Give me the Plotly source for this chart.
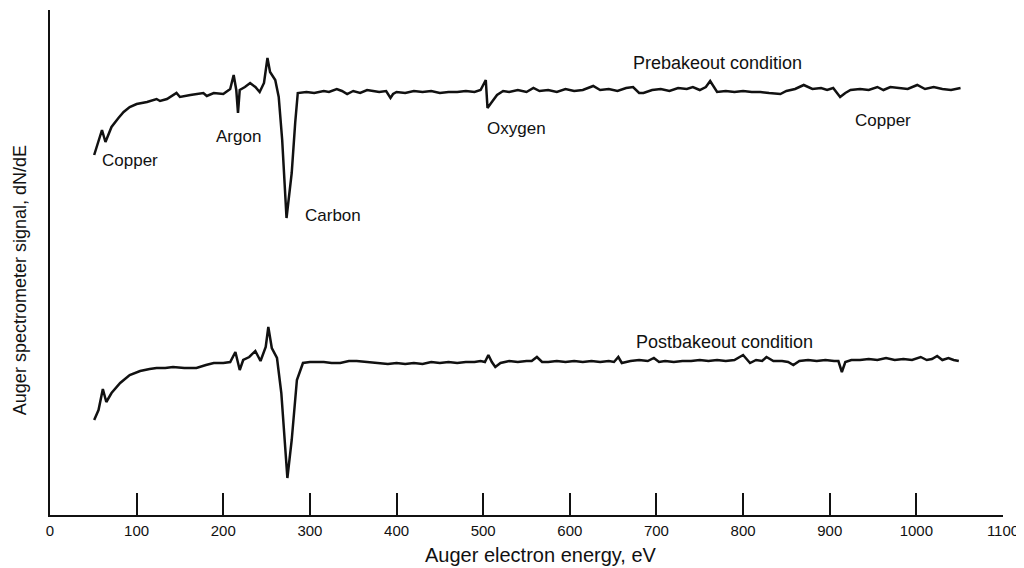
import plotly.graph_objects as go

# Prebakeout condition trace (energy in eV, signal in arbitrary units)
pre_energy = [51, 55, 60, 64, 71, 79, 85, 92, 100, 112, 123, 127, 135, 146, 150, 162, 177, 181, 189, 200,
              208, 212, 215, 217, 219, 225, 231, 237, 242, 247, 251, 254, 260, 264, 268, 273, 279, 283, 286,
              296, 305, 316, 322, 331, 337, 343, 350, 358, 366, 373, 380, 388, 393, 396, 400, 410, 420, 430,
              440, 450, 460, 470, 480, 490, 497, 503, 505, 510, 516, 523, 530, 540, 550, 558, 565, 575, 585,
              595, 605, 615, 627, 635, 645, 655, 665, 673, 680, 685, 695, 705, 715, 725, 735, 742, 750, 757,
              762, 770, 780, 790, 800, 810, 820, 830, 843, 850, 860, 870, 880, 890, 897, 904, 912, 918, 924,
              935, 945, 955, 962, 970, 980, 990, 1001, 1010, 1020, 1030, 1040, 1051]
pre_signal = [360, 372, 385, 373, 388, 397, 403, 408, 411, 413, 416, 414, 416, 422, 418, 420, 422, 419, 422, 421,
              426, 440, 425, 402, 425, 428, 432, 428, 423, 432, 457, 443, 435, 418, 375, 297, 342, 392, 422,
              423, 422, 424, 423, 426, 424, 421, 424, 422, 425, 424, 423, 424, 417, 421, 423, 422, 424, 423,
              424, 422, 423, 423, 424, 423, 425, 435, 407, 413, 420, 424, 423, 425, 423, 427, 424, 425, 423,
              426, 424, 425, 429, 425, 426, 424, 427, 428, 422, 422, 425, 426, 424, 427, 426, 428, 425, 428,
              434, 423, 424, 423, 424, 423, 423, 422, 421, 424, 426, 430, 426, 427, 425, 427, 418, 422, 425,
              426, 425, 428, 425, 428, 427, 426, 430, 426, 428, 426, 425, 427]

# Postbakeout condition trace
post_energy = [51, 56, 61, 65, 71, 81, 92, 104, 115, 123, 133, 142, 155, 169, 180, 189, 200, 208, 214, 219,
               223, 230, 237, 243, 249, 252, 256, 262, 267, 274, 279, 285, 292, 300, 316, 325, 335, 345, 354,
               365, 381, 390, 400, 410, 420, 430, 440, 450, 460, 470, 480, 490, 497, 502, 506, 510, 514, 520,
               530, 540, 550, 556, 562, 568, 575, 585, 595, 605, 615, 625, 635, 645, 651, 656, 660, 670, 680,
               690, 697, 703, 710, 720, 730, 740, 750, 760, 770, 780, 790, 800, 808, 815, 822, 827, 835, 845,
               852, 858, 865, 875, 885, 895, 905, 910, 914, 918, 925, 935, 945, 955, 965, 975, 985, 995, 1005,
               1012, 1018, 1024, 1030, 1037, 1043, 1049]
post_signal = [95, 105, 126, 113, 122, 132, 140, 144, 146, 147, 147, 148, 147, 147, 150, 152, 152, 153, 163, 145,
               155, 158, 164, 154, 168, 188, 167, 157, 122, 37, 75, 135, 152, 153, 153, 152, 152, 154, 154,
               153, 152, 151, 152, 151, 152, 151, 153, 152, 153, 152, 153, 153, 154, 153, 160, 153, 148, 152,
               154, 153, 154, 154, 158, 153, 153, 154, 153, 154, 153, 154, 153, 154, 153, 158, 152, 154, 155,
               154, 157, 153, 154, 153, 154, 154, 155, 154, 155, 154, 155, 160, 152, 155, 154, 158, 154, 154,
               153, 150, 154, 155, 154, 155, 154, 154, 143, 153, 155, 155, 156, 155, 157, 155, 156, 155, 158,
               155, 156, 159, 155, 157, 155, 154]

x_ticks = [0, 100, 200, 300, 400, 500, 600, 700, 800, 900, 1000, 1100]

# Peak labels: (text, energy, signal)
label_text = ["Copper", "Argon", "Carbon", "Oxygen", "Copper", "Prebakeout condition", "Postbakeout condition"]
label_x = [92, 217, 327, 538, 961, 770, 779]
label_y = [355, 379, 300, 387, 395, 452, 173]
label_size = [17, 17, 17, 17, 17, 18, 18]

FONT = "Liberation Sans, Arial, sans-serif"
INK = "#111111"

fig = go.Figure()
fig.add_trace(go.Scatter(x=pre_energy, y=pre_signal, mode="lines",
                         line=dict(color=INK, width=2.5), hoverinfo="skip", showlegend=False))
fig.add_trace(go.Scatter(x=post_energy, y=post_signal, mode="lines",
                         line=dict(color=INK, width=2.5), hoverinfo="skip", showlegend=False))

for t, xv, yv, s in zip(label_text, label_x, label_y, label_size):
    fig.add_annotation(x=xv, y=yv, xref="x", yref="y", text=t, showarrow=False,
                       font=dict(family=FONT, size=s, color=INK))

fig.add_annotation(x=567, y=-0.079, xref="x", yref="paper", xanchor="center", yanchor="middle",
                   text="Auger electron energy, eV",
                   showarrow=False, font=dict(family=FONT, size=20, color=INK))
fig.add_annotation(x=-0.0315, y=0.465, xref="paper", yref="paper", xanchor="center", yanchor="middle",
                   text="Auger spectrometer signal, dN/dE",
                   textangle=-90, showarrow=False, font=dict(family=FONT, size=18, color=INK))

fig.update_layout(
    width=1024, height=568,
    margin=dict(l=42, r=29, t=2, b=61, autoexpand=False),
    paper_bgcolor="white", plot_bgcolor="white",
    xaxis=dict(range=[0, 1100], tickvals=x_ticks, ticktext=[str(v) for v in x_ticks],
               ticks="inside", ticklen=22, tickwidth=2, tickcolor=INK,
               showline=True, linewidth=2, linecolor=INK, showgrid=False, zeroline=False,
               ticklabelstandoff=1, automargin=False,
               tickfont=dict(family=FONT, size=15, color=INK)),
    yaxis=dict(range=[0, 505], showline=True, linewidth=2, linecolor=INK, showgrid=False,
               zeroline=False, showticklabels=False, ticks="", automargin=False),
)

fig.write_html("out.html")
